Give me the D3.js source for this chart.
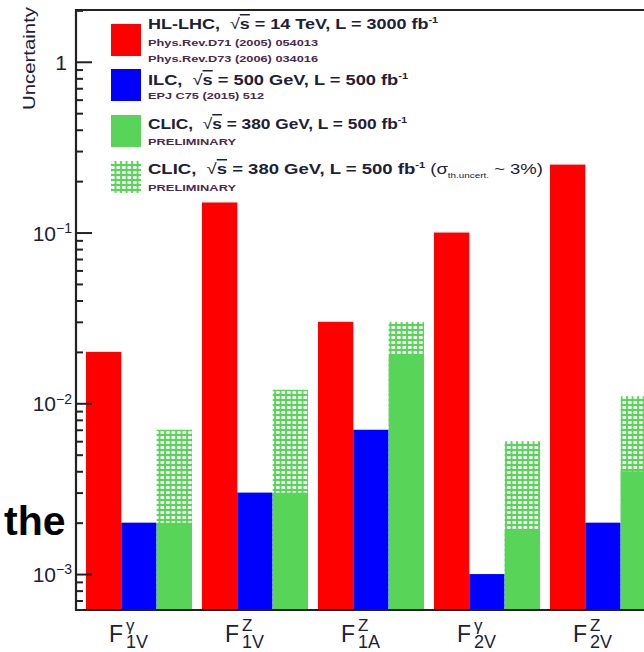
<!DOCTYPE html>
<html>
<head>
<meta charset="utf-8">
<script src="https://cdn.jsdelivr.net/npm/d3@7"></script>
<style>
  body { margin: 0; background: #fff; }
  svg { display: block; font-family: "Liberation Sans", Arial, sans-serif; }
  .axis .domain { display: none; }
  .axis line { stroke: #222; stroke-width: 2; }
</style>
</head>
<body>
<div id="chart"></div>
<script>
const categories = ["F1V_gamma", "F1V_Z", "F1A_Z", "F2V_gamma", "F2V_Z"]
const labelSup = ["γ", "Z", "Z", "γ", "Z"]
const labelSub = ["1V", "1V", "1A", "2V", "2V"]

const hllhc = [0.02, 0.15, 0.03, 0.1, 0.25]
const ilc = [0.002, 0.003, 0.007, 0.001, 0.002]
const clic = [0.002, 0.003, 0.019, 0.0018, 0.004]
const clicTheory = [0.007, 0.012, 0.03, 0.006, 0.011]

const yMajorTicks = [1, 0.1, 0.01, 0.001]
const yTickExp = ["", "−1", "−2", "−3"]

const width = 644, height = 652
const margin = {top: 10, right: -12, bottom: 42, left: 76}
const red = "#ff0000", blue = "#0000ff", green = "#58d458"
const textColor = "#1c2136"

const svg = d3.select("#chart").append("svg")
  .attr("width", width)
  .attr("height", height)

// hatch pattern for the theory-uncertainty bars
const pattern = svg.append("defs").append("pattern")
  .attr("id", "hatch")
  .attr("patternUnits", "userSpaceOnUse")
  .attr("width", 5.5)
  .attr("height", 5)
pattern.append("rect").attr("width", 5.5).attr("height", 5).attr("fill", green)
pattern.append("rect")
  .attr("x", 1).attr("y", 1)
  .attr("width", 3.7).attr("height", 3)
  .attr("rx", 0.8)
  .attr("fill", "#fff")

const x = d3.scaleBand()
  .domain(categories)
  .range([margin.left, width - margin.right])

const inner = d3.scaleBand()
  .domain(["hl", "ilc", "clic"])
  .range([10, x.bandwidth()])

const y = d3.scaleLog()
  .domain([6.16e-4, 2.01])
  .range([height - margin.bottom, margin.top])

const y0 = y.range()[0]

// bars
const bars = svg.append("g")
categories.forEach((c, i) => {
  const gx = x(c)
  bars.append("rect")
    .attr("x", gx + inner("hl")).attr("width", inner.bandwidth())
    .attr("y", y(hllhc[i])).attr("height", y0 - y(hllhc[i]))
    .attr("fill", red)
  bars.append("rect")
    .attr("x", gx + inner("ilc")).attr("width", inner.bandwidth())
    .attr("y", y(ilc[i])).attr("height", y0 - y(ilc[i]))
    .attr("fill", blue)
  bars.append("rect")
    .attr("x", gx + inner("clic")).attr("width", inner.bandwidth())
    .attr("y", y(clicTheory[i])).attr("height", y0 - y(clicTheory[i]))
    .attr("fill", "url(#hatch)")
  bars.append("rect")
    .attr("x", gx + inner("clic")).attr("width", inner.bandwidth())
    .attr("y", y(clic[i])).attr("height", y0 - y(clic[i]))
    .attr("fill", green)
})

// minor ticks
const minorTicks = []
;[1e-4, 1e-3, 1e-2, 1e-1, 1].forEach(d => {
  for (let k = 2; k <= 9; k++) {
    const v = d * k
    if (v > y.domain()[0] && v < y.domain()[1]) minorTicks.push(v)
  }
})

svg.append("g")
  .attr("class", "axis")
  .attr("transform", `translate(${margin.left}, 0)`)
  .call(d3.axisLeft(y).tickValues(minorTicks).tickSize(-7).tickFormat(""))

const yAxis = svg.append("g")
  .attr("class", "axis")
  .attr("transform", `translate(${margin.left}, 0)`)
  .call(d3.axisLeft(y).tickValues(yMajorTicks).tickSize(-16).tickPadding(4).tickFormat(""))

yAxis.selectAll(".tick text").each(function(d, i) {
  const t = d3.select(this)
    .attr("fill", textColor)
    .attr("font-size", 21)
    .attr("dy", "0.36em")
  if (yTickExp[i] === "") {
    t.attr("x", -9).text("1")
  } else {
    t.append("tspan").text("10")
    t.append("tspan").attr("font-size", 14).attr("dy", "-0.55em").text(yTickExp[i])
  }
})

// frame lines
svg.append("line")
  .attr("x1", margin.left).attr("x2", width)
  .attr("y1", margin.top).attr("y2", margin.top)
  .attr("stroke", "#222").attr("stroke-width", 2.2)
svg.append("line")
  .attr("x1", margin.left).attr("x2", width)
  .attr("y1", y0).attr("y2", y0)
  .attr("stroke", "#222").attr("stroke-width", 2.2)
svg.append("line")
  .attr("x1", margin.left).attr("x2", margin.left)
  .attr("y1", margin.top - 1).attr("y2", y0 + 1)
  .attr("stroke", "#222").attr("stroke-width", 2.2)

// y title
svg.append("text")
  .attr("transform", "translate(35, 7) rotate(-90)")
  .attr("text-anchor", "end")
  .attr("font-size", 16.5)
  .attr("fill", textColor)
  .attr("textLength", 103)
  .attr("lengthAdjust", "spacingAndGlyphs")
  .text("Uncertainty")

// x labels
const xLabels = svg.append("g").attr("fill", textColor)
categories.forEach((c, i) => {
  const cx = x(c) + x.bandwidth() / 2
  xLabels.append("text").attr("x", cx - 25).attr("y", 642).attr("font-size", 23).text("F")
  xLabels.append("text").attr("x", cx - 8).attr("y", 631).attr("font-size", 17).text(labelSup[i])
  xLabels.append("text").attr("x", cx - 8).attr("y", 648).attr("font-size", 18).text(labelSub[i])
})

// legend
const legendItems = [
  {fill: red, top: 24, mainDy: 5, mainLen: 290, pre: "HL-LHC,  ", post: "14 TeV, L = 3000 fb", extra: false,
    refs: ["Phys.Rev.D71 (2005) 054013", "Phys.Rev.D73 (2006) 034016"], refDy: [22, 38], refLen: [170, 170]},
  {fill: blue, top: 69, mainDy: 16, mainLen: 260, pre: "ILC,  ", post: "500 GeV, L = 500 fb", extra: false,
    refs: ["EPJ C75 (2015) 512"], refDy: [30], refLen: [116]},
  {fill: green, top: 115, mainDy: 14, mainLen: 259, pre: "CLIC,  ", post: "380 GeV, L = 500 fb", extra: false,
    refs: ["PRELIMINARY"], refDy: [30], refLen: [88]},
  {fill: "url(#hatch)", top: 161, mainDy: 13, mainLen: 395, pre: "CLIC,  ", post: "380 GeV, L = 500 fb", extra: true,
    refs: ["PRELIMINARY"], refDy: [30], refLen: [88]}
]

const legend = svg.append("g")
legendItems.forEach(item => {
  legend.append("rect")
    .attr("x", 111).attr("y", item.top)
    .attr("width", 30).attr("height", 32)
    .attr("fill", item.fill)

  const t = legend.append("text")
    .attr("x", 148).attr("y", item.top + item.mainDy)
    .attr("font-size", 15)
    .attr("font-weight", "bold")
    .attr("fill", textColor)
    .attr("textLength", item.mainLen)
    .attr("lengthAdjust", "spacingAndGlyphs")
    .style("white-space", "pre")
  t.append("tspan").text(item.pre)
  t.append("tspan").attr("font-weight", "normal").text("√")
  t.append("tspan").style("text-decoration", "overline").text("s")
  t.append("tspan").text(" = " + item.post)
  t.append("tspan").attr("font-size", 9).attr("dy", -6).text("-1")
  if (item.extra) {
    t.append("tspan").attr("dy", 6).attr("font-weight", "normal").text(" (σ")
    t.append("tspan").attr("font-size", 8).attr("font-weight", "normal").attr("dy", 4).text("th.uncert.")
    t.append("tspan").attr("dy", -4).attr("font-weight", "normal").text(" ~ 3%)")
  }

  item.refs.forEach((r, j) => {
    legend.append("text")
      .attr("x", 148).attr("y", item.top + item.refDy[j])
      .attr("font-size", 9)
      .attr("font-weight", "bold")
      .attr("fill", "#4a2a4e")
      .attr("textLength", item.refLen[j])
      .attr("lengthAdjust", "spacingAndGlyphs")
      .text(r)
  })
})

// stray overlay word from the slide
svg.append("text")
  .attr("x", 4).attr("y", 535)
  .attr("font-size", 41)
  .attr("font-weight", "bold")
  .attr("fill", "#000")
  .text("the")
</script>
</body>
</html>
